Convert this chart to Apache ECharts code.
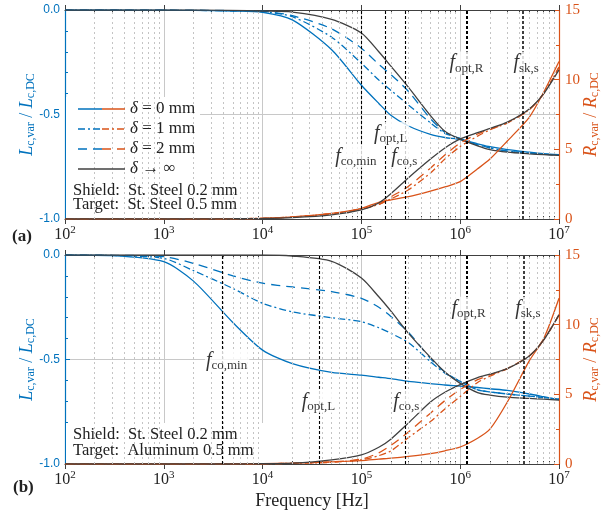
<!DOCTYPE html>
<html>
<head>
<meta charset="utf-8">
<script src="https://cdn.jsdelivr.net/npm/echarts@6/dist/echarts.min.js"></script>
<style>
html, body { margin: 0; padding: 0; background: #fff; }
#chart { width: 615px; height: 514px; }
</style>
</head>
<body>
<div id="chart"></div>
<script>
// frequency samples [Hz], shared by all curves
const freq = [1e2, 3e2, 1e3, 2e3, 5e3, 1e4, 2e4, 5e4, 1e5, 1.5e5, 2e5, 3e5, 5e5, 7e5, 1e6, 1.5e6, 2e6, 3e6, 5e6, 7e6, 1e7];

// (a) Shield: St. Steel 0.2 mm, Target: St. Steel 0.5 mm
const lA_d0 = [0, 0, -0.001, -0.002, -0.005, -0.011, -0.047, -0.19, -0.36, -0.447, -0.505, -0.555, -0.595, -0.61, -0.62, -0.64, -0.654, -0.668, -0.68, -0.687, -0.692];
const lA_d1 = [0, 0, -0.001, -0.002, -0.004, -0.008, -0.032, -0.13, -0.255, -0.335, -0.385, -0.455, -0.54, -0.59, -0.615, -0.645, -0.66, -0.675, -0.685, -0.69, -0.694];
const lA_d2 = [0, 0, 0, -0.001, -0.003, -0.006, -0.027, -0.09, -0.183, -0.26, -0.31, -0.39, -0.52, -0.585, -0.615, -0.645, -0.66, -0.675, -0.685, -0.69, -0.694];
const lA_inf = [0, 0, 0, 0, -0.002, -0.005, -0.01, -0.045, -0.11, -0.2, -0.27, -0.37, -0.505, -0.58, -0.618, -0.65, -0.668, -0.68, -0.688, -0.692, -0.696];
const rA_d0 = [0, 0, 0, 0.01, 0.02, 0.05, 0.15, 0.4, 0.77, 1.2, 1.38, 1.6, 2.0, 2.3, 2.68, 3.6, 4.3, 5.6, 7.3, 9.1, 11.3];
const rA_d1 = [0, 0, 0, 0.01, 0.02, 0.05, 0.14, 0.38, 0.72, 1.05, 1.45, 2.1, 3.3, 4.3, 5.2, 5.95, 6.4, 6.9, 7.85, 9.0, 10.9];
const rA_d2 = [0, 0, 0, 0.01, 0.02, 0.05, 0.14, 0.38, 0.72, 1.05, 1.6, 2.35, 3.65, 4.6, 5.45, 6.1, 6.45, 6.9, 7.85, 9.0, 10.9];
const rA_inf = [0, 0, 0, 0.01, 0.02, 0.04, 0.1, 0.3, 0.65, 1.15, 1.83, 2.96, 4.3, 5.1, 5.75, 6.2, 6.5, 6.95, 7.9, 9.0, 10.7];

// (b) Shield: St. Steel 0.2 mm, Target: Aluminum 0.5 mm
const lB_d0 = [0, -0.003, -0.032, -0.125, -0.323, -0.455, -0.52, -0.562, -0.575, -0.585, -0.592, -0.605, -0.615, -0.622, -0.627, -0.634, -0.64, -0.648, -0.665, -0.678, -0.692];
const lB_d1 = [0, -0.002, -0.016, -0.075, -0.16, -0.231, -0.272, -0.3, -0.319, -0.348, -0.375, -0.42, -0.51, -0.565, -0.605, -0.645, -0.655, -0.665, -0.675, -0.682, -0.69];
const lB_d2 = [0, -0.001, -0.008, -0.04, -0.1, -0.135, -0.153, -0.175, -0.207, -0.25, -0.295, -0.37, -0.495, -0.56, -0.605, -0.645, -0.655, -0.665, -0.675, -0.682, -0.69];
const lB_inf = [0, 0, 0, 0, 0, 0, -0.005, -0.03, -0.11, -0.2, -0.27, -0.375, -0.49, -0.56, -0.614, -0.658, -0.67, -0.68, -0.686, -0.69, -0.694];
const rB_d0 = [0, 0, 0, 0, 0.01, 0.03, 0.06, 0.15, 0.24, 0.35, 0.42, 0.55, 0.75, 0.95, 1.22, 1.85, 2.5, 4.45, 7.4, 9.0, 11.9];
const rB_d1 = [0, 0, 0, 0, 0.01, 0.02, 0.05, 0.12, 0.3, 0.6, 0.95, 1.9, 3.05, 3.95, 4.85, 5.85, 6.3, 6.85, 7.75, 8.9, 10.7];
const rB_d2 = [0, 0, 0, 0, 0.01, 0.02, 0.05, 0.15, 0.35, 0.8, 1.35, 2.3, 3.65, 4.55, 5.35, 6.05, 6.4, 6.85, 7.75, 8.9, 10.7];
const rB_inf = [0, 0, 0, 0, 0, 0.02, 0.06, 0.3, 0.65, 1.2, 1.8, 2.95, 4.45, 5.15, 5.7, 6.2, 6.45, 6.85, 7.75, 8.9, 10.7];

// characteristic frequencies (vertical dashed lines) and where their labels sit
const fNames = ['co,min', 'opt,L', 'co,s', 'opt,R', 'sk,s'];
const fLinesA = [1e5, 1.73e5, 2.79e5, 1.16e6, 4.28e6];
const fLinesB = [3.95e3, 3.72e4, 2.79e5, 1.16e6, 4.35e6];
const fLabelXA = [8.9e4, 2.0e5, 2.75e5, 1.17e6, 4.7e6];
const fLabelYA = [-0.70, -0.59, -0.70, -0.254, -0.254];
const fLabelXB = [4.37e3, 3.72e4, 2.88e5, 1.23e6, 4.9e6];
const fLabelYB = [-0.506, -0.70, -0.70, -0.255, -0.255];

// minor log ticks: 2..9 in every decade
const minorTicks = [];
for (let d = 100; d < 1e7; d *= 10) {
  for (let m = 2; m <= 9; m++) minorTicks.push(m * d);
}

const BLUE = '#0072bd';
const ORANGE = '#d95319';
const DARK = '#404040';
const SERIF = "'Liberation Serif', 'DejaVu Serif', serif";
const DASHDOT = [7, 3, 2, 3];
const DASHED = [9, 6];
const NX = 4; // x axes per grid

const chart = echarts.init(document.getElementById('chart'));

function curve(g, right, values, color, dash) {
  return {
    type: 'line',
    xAxisIndex: g * NX,
    yAxisIndex: g * 2 + (right ? 1 : 0),
    data: freq.map((f, i) => [f, values[i]]),
    showSymbol: false,
    smooth: 0.25,
    lineStyle: { color, width: 1.3, type: dash || 'solid' },
    z: 3,
  };
}

const fRich = {
  f: { fontFamily: SERIF, fontStyle: 'italic', fontSize: 20, color: '#000' },
  s: { fontFamily: SERIF, fontSize: 13, color: '#000', padding: [10, 0, 0, 0] },
};

function fMarks(g, lines, labX, labY) {
  return [
    {
      // dotted minor grid
      type: 'line',
      xAxisIndex: g * NX,
      yAxisIndex: g * 2,
      data: [],
      markLine: {
        silent: true,
        symbol: 'none',
        label: { show: false },
        lineStyle: { color: '#c4c4c4', type: [2, 3], width: 1 },
        data: minorTicks.map((x) => ({ xAxis: x })),
      },
      z: 0,
    },
    {
      type: 'line',
      xAxisIndex: g * NX,
      yAxisIndex: g * 2,
      data: [],
      markLine: {
        silent: true,
        symbol: 'none',
        label: { show: false },
        data: lines.map((x, i) => ({
          xAxis: x,
          lineStyle: { color: '#000', type: [3, 2], width: i === 3 ? 2 : (i === 4 ? 1.5 : 1.1) },
        })),
      },
      z: 4,
    },
    {
      type: 'scatter',
      xAxisIndex: g * NX,
      yAxisIndex: g * 2,
      silent: true,
      symbolSize: 0,
      data: labX.map((x, i) => ({ value: [x, labY[i]], label: { formatter: '{f|f}{s|' + fNames[i] + '}' } })),
      label: { show: true, position: 'inside', backgroundColor: '#fff', padding: [0, 2, 0, 1], rich: fRich },
      z: 6,
    },
  ];
}

const axisNameRich = (color) => ({
  i: { fontFamily: SERIF, fontStyle: 'italic', fontSize: 18, color },
  s: { fontFamily: SERIF, fontSize: 12, color, padding: [8, 0, 0, 0] },
  n: { fontFamily: SERIF, fontSize: 18, color },
});

function xAxes(g) {
  const common = {
    type: 'log',
    logBase: 10,
    gridIndex: g,
    min: 100,
    max: 1e7,
    minorTick: { show: false },
    minorSplitLine: { show: false },
  };
  const major = Object.assign({}, common, {
    axisLine: { show: true, lineStyle: { color: DARK, width: 1.2 } },
    axisTick: { inside: true, length: 5, lineStyle: { color: DARK } },
  });
  const minor = Object.assign({}, common, {
    axisLine: { show: false },
    axisTick: { inside: true, length: 3, customValues: minorTicks, lineStyle: { color: DARK } },
    axisLabel: { show: false },
    splitLine: { show: false },
  });
  return [
    Object.assign({}, major, {
      position: 'bottom',
      splitLine: { show: true, lineStyle: { color: '#c8c8c8', width: 1 } },
      axisLabel: {
        margin: 6,
        formatter: (v) => '{b|10}{e|' + Math.round(Math.log10(v)) + '}',
        rich: {
          b: { fontFamily: SERIF, fontSize: 16, color: '#222' },
          e: { fontFamily: SERIF, fontSize: 11, color: '#222', padding: [0, 0, 9, 0] },
        },
      },
      name: g === 1 ? 'Frequency [Hz]' : '',
      nameLocation: 'middle',
      nameGap: 28,
      nameTextStyle: { fontFamily: SERIF, fontSize: 18, color: '#222' },
    }),
    Object.assign({}, major, {
      position: 'top',
      splitLine: { show: false },
      axisLabel: { show: false },
    }),
    Object.assign({}, minor, { position: 'bottom' }),
    Object.assign({}, minor, { position: 'top' }),
  ];
}

function yAxes(g) {
  return [
    {
      type: 'value',
      gridIndex: g,
      position: 'left',
      min: -1,
      max: 0,
      interval: 0.5,
      axisLine: { show: true, lineStyle: { color: BLUE, width: 1.2 } },
      axisTick: { show: true, inside: true, length: 5, lineStyle: { color: BLUE } },
      minorTick: { show: true, splitNumber: 5, length: 3, lineStyle: { color: BLUE } },
      splitLine: { show: true, lineStyle: { color: '#c8c8c8' } },
      axisLabel: { color: BLUE, fontFamily: "'Liberation Sans', Arial, sans-serif", fontSize: 12, margin: 5, formatter: (v) => v.toFixed(1) },
      name: '{i|L}{s|c,var}{n| / }{i|L}{s|c,DC}',
      nameLocation: 'middle',
      nameRotate: 90,
      nameGap: 28,
      nameMoveOverlap: false,
      nameTextStyle: { rich: axisNameRich(BLUE) },
    },
    {
      type: 'value',
      gridIndex: g,
      position: 'right',
      min: 0,
      max: 15,
      interval: 5,
      axisLine: { show: true, lineStyle: { color: ORANGE, width: 1.2 } },
      axisTick: { show: true, inside: true, length: 5, lineStyle: { color: ORANGE } },
      minorTick: { show: true, splitNumber: 2, length: 3, lineStyle: { color: ORANGE } },
      splitLine: { show: false },
      axisLabel: { color: ORANGE, fontFamily: SERIF, fontSize: 15, margin: 6 },
      name: '{i|R}{s|c,var}{n| / }{i|R}{s|c,DC}',
      nameLocation: 'middle',
      nameRotate: 90,
      nameGap: 22,
      nameMoveOverlap: false,
      nameTextStyle: { rich: axisNameRich(ORANGE) },
    },
  ];
}

const series = [
  curve(0, false, lA_d0, BLUE),
  curve(0, false, lA_d1, BLUE, DASHDOT),
  curve(0, false, lA_d2, BLUE, DASHED),
  curve(0, false, lA_inf, DARK),
  curve(0, true, rA_d0, ORANGE),
  curve(0, true, rA_d1, ORANGE, DASHDOT),
  curve(0, true, rA_d2, ORANGE, DASHED),
  curve(0, true, rA_inf, DARK),
  curve(1, false, lB_d0, BLUE),
  curve(1, false, lB_d1, BLUE, DASHDOT),
  curve(1, false, lB_d2, BLUE, DASHED),
  curve(1, false, lB_inf, DARK),
  curve(1, true, rB_d0, ORANGE),
  curve(1, true, rB_d1, ORANGE, DASHDOT),
  curve(1, true, rB_d2, ORANGE, DASHED),
  curve(1, true, rB_inf, DARK),
].concat(fMarks(0, fLinesA, fLabelXA, fLabelYA), fMarks(1, fLinesB, fLabelXB, fLabelYB));

// legend drawn by hand: each entry has a blue half and an orange half
const legendRows = [
  { text: '{i|δ} = 0 mm', dash: null, two: true },
  { text: '{i|δ} = 1 mm', dash: DASHDOT, two: true },
  { text: '{i|δ} = 2 mm', dash: DASHED, two: true },
  { text: '{i|δ} → ∞', dash: null, two: false },
];
const legendRich = { i: { fontFamily: SERIF, fontStyle: 'italic', fontSize: 17, fill: '#222' } };
const legendEls = [];
legendRows.forEach((r, k) => {
  const y = 109 + k * 20;
  const ls = (c, x1, x2) => ({
    type: 'line', z: 10, silent: true,
    shape: { x1, y1: y, x2, y2: y },
    style: { stroke: c, lineWidth: 1.5, lineDash: r.dash || null },
  });
  if (r.two) {
    legendEls.push(ls(BLUE, 78, 102), ls(ORANGE, 102, 125));
  } else {
    legendEls.push(ls(DARK, 78, 125));
  }
  legendEls.push({
    type: 'text', z: 10, silent: true, x: 130, y,
    style: { text: r.text, rich: legendRich, font: '17px ' + SERIF, fill: '#222', verticalAlign: 'middle' },
  });
});

const noteText = (x, y, text) => ({
  type: 'text', z: 10, silent: true, x, y,
  style: { text, font: '16.5px ' + SERIF, fill: '#222', verticalAlign: 'middle' },
});

const graphic = [
  { type: 'rect', z: 1, silent: true, shape: { x: 66, y: 97, width: 134, height: 82 }, style: { fill: '#fff' } },
  { type: 'rect', z: 1, silent: true, shape: { x: 66, y: 179, width: 190, height: 39 }, style: { fill: '#fff' } },
  { type: 'rect', z: 1, silent: true, shape: { x: 66, y: 423, width: 206, height: 40 }, style: { fill: '#fff' } },
  ...legendEls,
  noteText(73, 191, 'Shield:  St. Steel 0.2 mm'),
  noteText(73, 205, 'Target:  St. Steel 0.5 mm'),
  noteText(73, 435, 'Shield:  St. Steel 0.2 mm'),
  noteText(73, 451, 'Target:  Aluminum 0.5 mm'),
  { type: 'text', z: 10, silent: true, x: 12, y: 237, style: { text: '(a)', font: 'bold 17px ' + SERIF, fill: '#222', verticalAlign: 'middle' } },
  { type: 'text', z: 10, silent: true, x: 13, y: 488, style: { text: '(b)', font: 'bold 17px ' + SERIF, fill: '#222', verticalAlign: 'middle' } },
];

chart.setOption({
  animation: false,
  backgroundColor: '#fff',
  grid: [
    { left: 65, right: 56, top: 10, height: 209 },
    { left: 65, right: 56, top: 255, height: 209 },
  ],
  xAxis: xAxes(0).concat(xAxes(1)),
  yAxis: yAxes(0).concat(yAxes(1)),
  series,
  graphic,
});
</script>
</body>
</html>
